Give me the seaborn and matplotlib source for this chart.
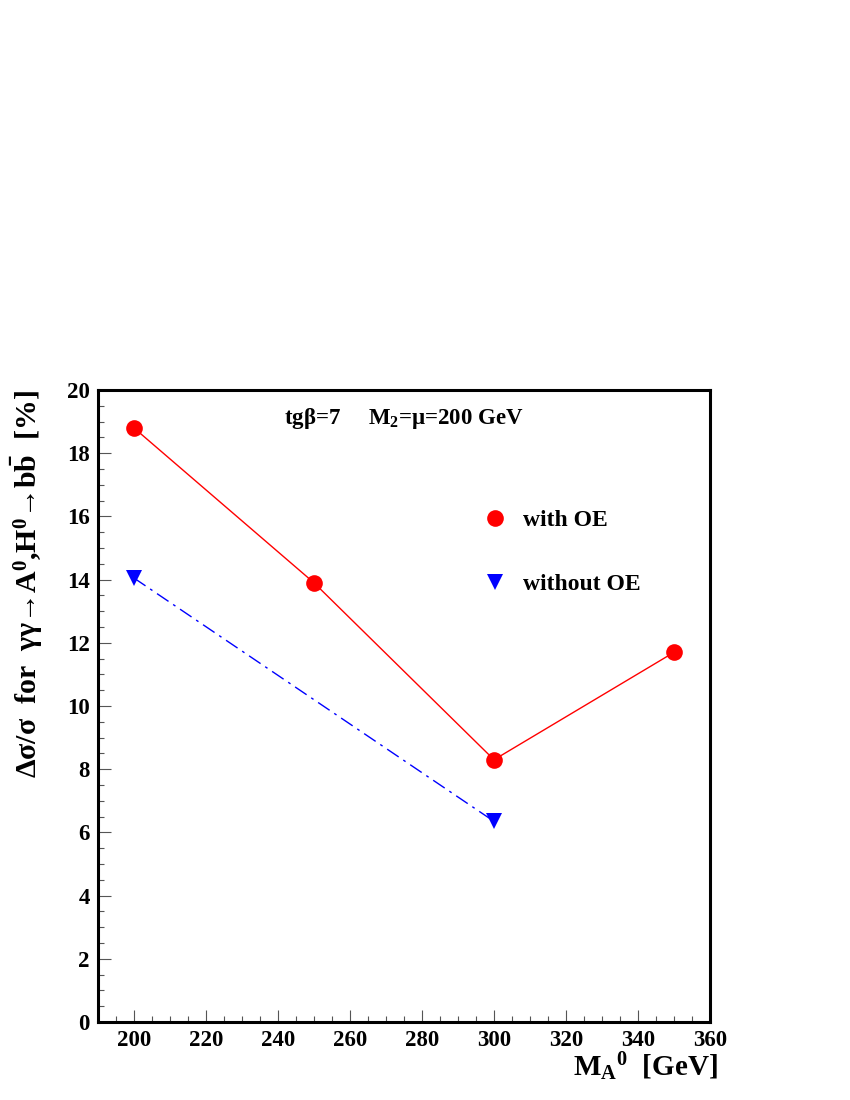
import matplotlib
matplotlib.use("Agg")
import matplotlib.pyplot as plt
import seaborn as sns
import numpy as np
from matplotlib.lines import Line2D
from matplotlib.ticker import MultipleLocator

# ---- data ----
mass_with = [200, 250, 300, 350]
dsig_with = [18.8, 13.9, 8.3, 11.7]
mass_without = [200, 300]
dsig_without = [14.05, 6.35]
label_with = "with OE"
label_without = "without OE"
x_ticks = [200, 220, 240, 260, 280, 300, 320, 340, 360]
y_ticks = [0, 2, 4, 6, 8, 10, 12, 14, 16, 18, 20]

sns.set_style("ticks")
plt.rcParams["font.family"] = ["Liberation Serif", "DejaVu Serif"]
plt.rcParams["font.weight"] = "bold"
plt.rcParams["text.color"] = "black"
plt.rcParams["axes.labelcolor"] = "black"
plt.rcParams["xtick.color"] = "black"
plt.rcParams["ytick.color"] = "black"
plt.rcParams["mathtext.fontset"] = "custom"
plt.rcParams["mathtext.rm"] = "Liberation Serif:bold"
plt.rcParams["mathtext.it"] = "Liberation Serif:bold"
plt.rcParams["mathtext.bf"] = "Liberation Serif:bold"
plt.rcParams["mathtext.default"] = "rm"

fig = plt.figure(figsize=(8.5, 11), dpi=100)
ax = fig.add_axes([0.1153, 0.0709, 0.7200, 0.5745])

sns.lineplot(x=mass_with, y=dsig_with, ax=ax, color="red", linewidth=1.0,
             marker="o", markersize=12, markeredgecolor="red", markeredgewidth=0)
sns.lineplot(x=mass_without, y=dsig_without, ax=ax, color="blue", linewidth=1.0,
             marker="v", markersize=11, markeredgecolor="blue", markeredgewidth=0)
ax.lines[-1].set_linestyle((0, (10, 4, 2, 4)))

ax.set_xlim(190, 360)
ax.set_ylim(0, 20)
ax.set_xticks(x_ticks)
ax.set_yticks(y_ticks)
ax.xaxis.set_minor_locator(MultipleLocator(5))
ax.yaxis.set_minor_locator(MultipleLocator(0.5))
ax.tick_params(which="major", direction="in", length=9, width=0.8, color="#555555",
               labelcolor="black", labelsize=16.5, top=False, right=False, pad=6)
ax.tick_params(which="minor", direction="in", length=4.5, width=0.8, color="#555555",
               top=False, right=False)
for lab in ax.get_xticklabels() + ax.get_yticklabels():
    lab.set_fontweight("bold")
for s in ax.spines.values():
    s.set_visible(True)
    s.set_linewidth(2.2)
    s.set_color("black")

ax.set_xlabel(r"M$_{\mathbf{A}}$$^{\mathbf{0}}$  [GeV]", fontsize=21, fontweight="bold",
              loc="right", labelpad=2)
ax.xaxis.set_label_coords(1.012, -0.045)
ax.set_ylabel("Δσ/σ  for  γγ→A$^0$,H$^0$→b$\\bar{\\mathrm{b}}$  [%]",
              fontsize=21.5, fontweight="bold", loc="top", labelpad=16)

ax.text(0.5, 0.955, r"tg$\beta$=7     M$_2$=$\mu$=200 GeV", transform=ax.transAxes,
        ha="center", va="center", fontsize=16.5, fontweight="bold")

handles = [Line2D([], [], color="red", marker="o", linestyle="none", markersize=12,
                  markeredgewidth=0),
           Line2D([], [], color="blue", marker="v", linestyle="none", markersize=11,
                  markeredgewidth=0)]
ax.legend(handles, [label_with, label_without], loc="upper left",
          bbox_to_anchor=(0.59, 0.845), frameon=False,
          labelspacing=1.8, handletextpad=0.6, handlelength=1.2,
          prop={"weight": "bold", "size": 17})

fig.savefig("out.png", dpi=100)
